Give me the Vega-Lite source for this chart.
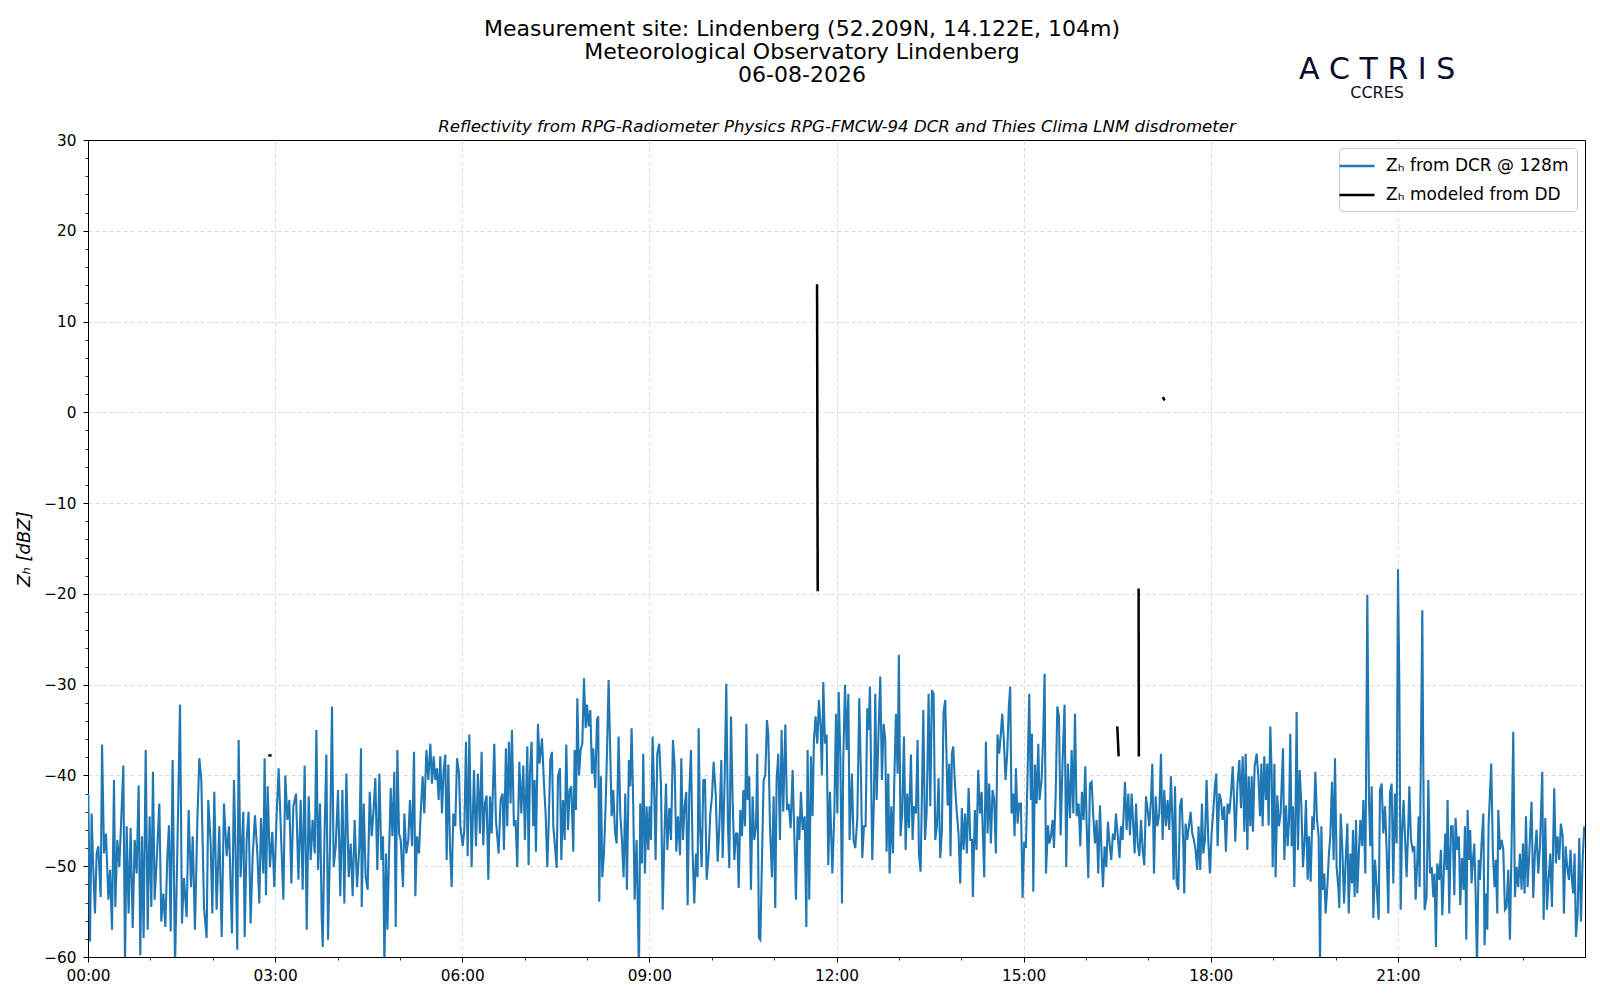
{
  "$schema": "https://vega.github.io/schema/vega-lite/v6.json",
  "width": 1497,
  "height": 817,
  "autosize": {"type": "none"},
  "padding": {"left": 88, "top": 140, "right": 15, "bottom": 43},
  "background": "white",
  "config": {
    "font": "DejaVu Sans",
    "view": {"stroke": "black", "strokeWidth": 1},
    "axis": {
      "labelFont": "DejaVu Sans", "labelFontSize": 15.3, "labelColor": "black",
      "domainColor": "black", "tickColor": "black",
      "titleFont": "DejaVu Sans", "titleColor": "black", "titleFontWeight": "normal"
    },
    "legend": {
      "orient": "top-right", "offset": 8, "fillColor": "white", "strokeColor": "#cccccc",
      "cornerRadius": 4, "padding": 8, "labelFont": "DejaVu Sans", "labelFontSize": 17,
      "labelColor": "black", "labelLimit": 400, "symbolType": "M-2,0H2", "symbolSize": 306,
      "symbolStrokeWidth": 2.5, "rowPadding": 11, "labelOffset": 19
    }
  },
  "title": {
    "text": [
      "Measurement site: Lindenberg (52.209N, 14.122E, 104m)",
      "Meteorological Observatory Lindenberg",
      "06-08-2026"
    ],
    "anchor": "middle", "frame": "group", "dx": -34.5,
    "font": "DejaVu Sans", "fontSize": 22, "fontWeight": "normal", "lineHeight": 23, "color": "black",
    "offset": -32
  },
  "datasets": {
    "dcr": [
      {"m":0.3,"v":-42.0},{"m":1.9,"v":-58.3},{"m":3.5,"v":-44.2},{"m":5.1,"v":-50.4},{"m":6.7,"v":-55.2},{"m":8.3,"v":-48.6},{"m":9.9,"v":-47.8},{"m":12.2,"v":-53.4},{"m":13.5,"v":-36.6},{"m":15.4,"v":-48.6},{"m":17.3,"v":-46.4},{"m":19.6,"v":-53.7},{"m":21.2,"v":-50.4},{"m":23.1,"v":-57.0},{"m":25.0,"v":-40.5},{"m":26.3,"v":-54.5},{"m":28.2,"v":-47.1},{"m":30.1,"v":-50.1},{"m":32.1,"v":-44.5},{"m":34.0,"v":-38.9},{"m":35.6,"v":-61},{"m":37.2,"v":-45.6},{"m":39.1,"v":-55.2},{"m":41.0,"v":-45.8},{"m":43.0,"v":-56.8},{"m":44.9,"v":-47.1},{"m":46.8,"v":-50.8},{"m":48.7,"v":-41.1},{"m":50.3,"v":-59.8},{"m":51.9,"v":-46.7},{"m":53.5,"v":-57.9},{"m":55.5,"v":-37.2},{"m":57.4,"v":-57.0},{"m":59.3,"v":-44.5},{"m":60.9,"v":-54.5},{"m":62.5,"v":-39.6},{"m":64.1,"v":-53.7},{"m":66.4,"v":-48.6},{"m":68.6,"v":-43.1},{"m":70.5,"v":-56.1},{"m":72.5,"v":-53.0},{"m":74.4,"v":-56.7},{"m":76.3,"v":-48.9},{"m":77.9,"v":-45.5},{"m":79.5,"v":-57.2},{"m":81.4,"v":-38.3},{"m":83.7,"v":-61},{"m":85.9,"v":-48.6},{"m":88.5,"v":-32.2},{"m":90.4,"v":-56.3},{"m":92.3,"v":-51.3},{"m":94.9,"v":-55.6},{"m":96.8,"v":-43.8},{"m":99.1,"v":-52.3},{"m":100.7,"v":-46.7},{"m":102.9,"v":-57.0},{"m":105.2,"v":-44.9},{"m":107.1,"v":-38.1},{"m":109.0,"v":-40.5},{"m":111.6,"v":-54.6},{"m":114.1,"v":-57.9},{"m":115.7,"v":-42.7},{"m":118.0,"v":-47.5},{"m":119.6,"v":-55.2},{"m":121.5,"v":-41.8},{"m":123.7,"v":-54.8},{"m":126.3,"v":-45.6},{"m":128.6,"v":-57.8},{"m":130.8,"v":-43.1},{"m":133.4,"v":-48.9},{"m":135.6,"v":-45.6},{"m":138.5,"v":-57.4},{"m":140.4,"v":-40.5},{"m":141.7,"v":-47.1},{"m":143.6,"v":-59.2},{"m":144.9,"v":-36.1},{"m":146.8,"v":-51.2},{"m":149.4,"v":-44.0},{"m":150.7,"v":-57.8},{"m":152.6,"v":-47.1},{"m":154.5,"v":-44.0},{"m":156.4,"v":-56.3},{"m":158.4,"v":-48.9},{"m":160.6,"v":-44.4},{"m":162.9,"v":-48.6},{"m":164.8,"v":-54.1},{"m":166.4,"v":-44.7},{"m":168.6,"v":-50.8},{"m":169.9,"v":-38.1},{"m":171.2,"v":-53.2},{"m":172.8,"v":-41.2},{"m":175.0,"v":-50.1},{"m":177.3,"v":-46.2},{"m":179.2,"v":-52.3},{"m":181.5,"v":-44.2},{"m":183.4,"v":-39.2},
      {"m":187.9,"v":-53.7},{"m":189.8,"v":-40.0},{"m":191.8,"v":-44.9},{"m":193.7,"v":-42.7},{"m":195.6,"v":-51.9},{"m":197.5,"v":-43.4},{"m":200.1,"v":-42.0},{"m":202.4,"v":-51.5},{"m":204.6,"v":-42.7},{"m":206.5,"v":-52.6},{"m":208.4,"v":-38.9},{"m":210.4,"v":-57.0},{"m":212.3,"v":-42.3},{"m":214.2,"v":-49.3},{"m":216.1,"v":-44.9},{"m":218.1,"v":-48.6},{"m":219.7,"v":-35.0},{"m":221.3,"v":-50.4},{"m":223.2,"v":-43.1},{"m":224.8,"v":-55.6},{"m":225.8,"v":-58.9},{"m":227.4,"v":-47.1},{"m":229.3,"v":-37.7},{"m":230.9,"v":-58.1},{"m":232.8,"v":-47.8},{"m":234.7,"v":-32.4},{"m":236.3,"v":-50.1},{"m":238.3,"v":-47.8},{"m":240.5,"v":-41.6},{"m":242.7,"v":-53.3},{"m":244.7,"v":-41.6},{"m":246.6,"v":-54.1},{"m":248.5,"v":-39.8},{"m":250.8,"v":-51.2},{"m":252.7,"v":-47.5},{"m":254.6,"v":-53.3},{"m":256.5,"v":-44.9},{"m":258.8,"v":-52.3},{"m":261.0,"v":-47.8},{"m":262.6,"v":-37.0},{"m":263.3,"v":-54.5},{"m":265.2,"v":-43.1},{"m":267.1,"v":-51.2},{"m":269.0,"v":-52.6},{"m":271.0,"v":-41.8},{"m":272.9,"v":-46.7},{"m":274.5,"v":-44.2},{"m":276.4,"v":-40.3},{"m":278.3,"v":-50.4},{"m":280.3,"v":-39.8},{"m":282.2,"v":-49.3},{"m":283.8,"v":-46.7},{"m":285.1,"v":-61},{"m":286.7,"v":-48.6},{"m":288.0,"v":-57.0},{"m":289.6,"v":-48.6},{"m":291.2,"v":-41.4},{"m":292.8,"v":-46.7},{"m":294.7,"v":-39.6},{"m":296.0,"v":-56.7},{"m":297.6,"v":-37.2},{"m":299.2,"v":-46.4},{"m":300.8,"v":-47.1},{"m":303.0,"v":-52.3},{"m":304.3,"v":-44.2},{"m":306.2,"v":-48.6},{"m":308.1,"v":-47.1},{"m":309.7,"v":-42.7},{"m":311.7,"v":-47.8},{"m":313.6,"v":-37.4},{"m":314.9,"v":-53.3},{"m":316.5,"v":-46.7},{"m":318.4,"v":-48.6},{"m":320.0,"v":-44.2},{"m":321.9,"v":-40.1},{"m":323.5,"v":-44.2},{"m":325.5,"v":-37.2},{"m":327.4,"v":-40.5},{"m":329.3,"v":-36.5},{"m":330.9,"v":-40.9},{"m":332.5,"v":-37.9},{"m":334.1,"v":-40.5},{"m":335.7,"v":-39.2},{"m":337.3,"v":-42.7},{"m":338.9,"v":-37.9},{"m":340.5,"v":-44.2},{"m":342.1,"v":-39.4},{"m":343.7,"v":-37.7},{"m":345.0,"v":-49.3},{"m":346.6,"v":-38.8},{"m":348.2,"v":-47.8},{"m":349.8,"v":-52.3},{"m":351.4,"v":-44.2},{"m":353.3,"v":-45.6},{"m":355.0,"v":-38.1},{"m":356.9,"v":-39.8},{"m":358.2,"v":-45.6},{"m":360.4,"v":-47.8},{"m":362.0,"v":-46.0},{"m":363.6,"v":-36.3},{"m":365.2,"v":-48.9},{"m":366.8,"v":-35.5},
      {"m":369.0,"v":-50.1},{"m":371.3,"v":-39.4},{"m":373.2,"v":-47.8},{"m":375.1,"v":-39.8},{"m":377.0,"v":-46.4},{"m":378.6,"v":-37.4},{"m":380.2,"v":-47.7},{"m":381.8,"v":-43.1},{"m":383.4,"v":-42.2},{"m":385.1,"v":-51.5},{"m":386.7,"v":-42.3},{"m":388.3,"v":-46.4},{"m":390.8,"v":-36.5},{"m":392.4,"v":-44.9},{"m":395.0,"v":-48.6},{"m":396.9,"v":-42.7},{"m":398.8,"v":-42.0},{"m":400.1,"v":-48.2},{"m":402.0,"v":-37.0},{"m":403.3,"v":-45.6},{"m":404.9,"v":-36.3},{"m":406.5,"v":-43.1},{"m":407.8,"v":-35.0},{"m":409.7,"v":-45.6},{"m":411.3,"v":-44.9},{"m":412.9,"v":-50.1},{"m":414.9,"v":-38.5},{"m":416.8,"v":-44.2},{"m":418.7,"v":-38.9},{"m":420.3,"v":-47.1},{"m":422.6,"v":-36.8},{"m":423.8,"v":-49.9},{"m":425.1,"v":-39.8},{"m":426.7,"v":-36.3},{"m":428.3,"v":-45.6},{"m":429.6,"v":-40.5},{"m":430.9,"v":-48.4},{"m":432.8,"v":-34.3},{"m":434.4,"v":-38.7},{"m":436.7,"v":-35.9},{"m":438.6,"v":-40.9},{"m":440.2,"v":-44.2},{"m":441.8,"v":-50.1},{"m":443.1,"v":-45.6},{"m":444.7,"v":-38.3},{"m":446.3,"v":-37.4},{"m":447.6,"v":-45.6},{"m":449.2,"v":-47.8},{"m":450.8,"v":-50.2},{"m":452.1,"v":-40.1},{"m":454.0,"v":-39.2},{"m":455.3,"v":-49.3},{"m":456.9,"v":-42.7},{"m":458.5,"v":-47.1},{"m":460.1,"v":-36.6},{"m":461.7,"v":-46.0},{"m":463.3,"v":-41.6},{"m":464.9,"v":-41.2},{"m":466.8,"v":-48.4},{"m":468.1,"v":-37.2},{"m":469.4,"v":-43.8},{"m":470.7,"v":-31.5},{"m":472.3,"v":-40.0},{"m":473.9,"v":-37.2},{"m":475.5,"v":-36.5},{"m":477.1,"v":-29.3},{"m":478.7,"v":-34.8},{"m":480.0,"v":-32.2},{"m":481.6,"v":-34.6},{"m":483.2,"v":-32.8},{"m":484.8,"v":-39.8},{"m":486.0,"v":-37.0},{"m":487.9,"v":-41.4},{"m":489.6,"v":-33.9},{"m":490.8,"v":-33.5},{"m":491.8,"v":-53.9},{"m":493.4,"v":-40.1},{"m":494.7,"v":-51.2},{"m":496.3,"v":-48.6},{"m":497.9,"v":-43.4},{"m":499.2,"v":-37.6},{"m":500.8,"v":-29.5},{"m":502.1,"v":-36.1},{"m":503.7,"v":-44.5},{"m":505.3,"v":-41.6},{"m":506.9,"v":-46.2},{"m":508.5,"v":-47.5},{"m":510.4,"v":-35.7},{"m":512.0,"v":-44.2},{"m":513.6,"v":-47.1},{"m":515.2,"v":-51.2},{"m":516.8,"v":-42.0},{"m":518.4,"v":-52.6},{"m":520.3,"v":-38.3},{"m":521.6,"v":-41.2},{"m":522.9,"v":-34.8},{"m":524.5,"v":-43.4},{"m":525.8,"v":-53.7},{"m":527.7,"v":-47.1},{"m":530.0,"v":-62},{"m":531.2,"v":-43.1},{"m":532.8,"v":-49.7},{"m":534.1,"v":-37.6},{"m":535.7,"v":-50.8},{"m":537.3,"v":-43.4},{"m":538.9,"v":-48.2},{"m":540.2,"v":-43.4},{"m":541.5,"v":-47.1},{"m":543.1,"v":-35.7},{"m":545.0,"v":-43.4},{"m":546.0,"v":-49.3},{"m":547.6,"v":-37.6},{"m":549.5,"v":-36.5},
      {"m":551.2,"v":-41.2},{"m":552.8,"v":-54.8},{"m":554.4,"v":-47.1},{"m":556.0,"v":-40.9},{"m":557.3,"v":-48.2},{"m":559.2,"v":-43.6},{"m":560.8,"v":-47.1},{"m":562.7,"v":-36.1},{"m":564.3,"v":-39.0},{"m":565.9,"v":-48.4},{"m":567.5,"v":-44.5},{"m":569.5,"v":-48.8},{"m":570.7,"v":-38.1},{"m":572.3,"v":-47.1},{"m":573.9,"v":-43.4},{"m":575.5,"v":-41.8},{"m":576.8,"v":-54.3},{"m":578.4,"v":-42.0},{"m":580.0,"v":-37.2},{"m":581.6,"v":-48.6},{"m":583.2,"v":-54.1},{"m":584.8,"v":-48.6},{"m":586.4,"v":-51.2},{"m":587.4,"v":-34.8},{"m":588.7,"v":-45.6},{"m":590.3,"v":-50.1},{"m":591.9,"v":-40.5},{"m":593.5,"v":-40.5},{"m":595.1,"v":-51.5},{"m":597.0,"v":-48.6},{"m":598.6,"v":-44.2},{"m":600.2,"v":-42.3},{"m":601.8,"v":-38.5},{"m":603.8,"v":-42.0},{"m":605.7,"v":-49.5},{"m":607.3,"v":-45.6},{"m":609.2,"v":-38.3},{"m":610.5,"v":-49.1},{"m":612.4,"v":-40.5},{"m":614.0,"v":-29.9},{"m":615.6,"v":-45.6},{"m":616.9,"v":-50.2},{"m":618.5,"v":-33.5},{"m":620.1,"v":-42.7},{"m":621.7,"v":-49.3},{"m":623.3,"v":-46.4},{"m":624.6,"v":-46.4},{"m":625.9,"v":-52.4},{"m":627.5,"v":-43.8},{"m":629.1,"v":-46.7},{"m":630.4,"v":-41.6},{"m":632.0,"v":-45.6},{"m":633.3,"v":-34.3},{"m":634.5,"v":-42.7},{"m":636.1,"v":-40.1},{"m":637.7,"v":-52.6},{"m":639.3,"v":-42.3},{"m":640.9,"v":-47.1},{"m":642.6,"v":-45.6},{"m":643.8,"v":-37.6},{"m":645.4,"v":-57.9},{"m":646.7,"v":-58.1},{"m":648.3,"v":-49.3},{"m":649.9,"v":-40.5},{"m":651.5,"v":-40.0},{"m":653.1,"v":-33.9},{"m":654.4,"v":-35.4},{"m":656.0,"v":-45.6},{"m":657.9,"v":-51.2},{"m":659.5,"v":-42.3},{"m":661.1,"v":-54.6},{"m":662.4,"v":-40.5},{"m":664.0,"v":-37.6},{"m":665.6,"v":-47.1},{"m":667.2,"v":-35.0},{"m":668.8,"v":-44.0},{"m":670.8,"v":-34.4},{"m":672.4,"v":-43.8},{"m":674.0,"v":-43.1},{"m":675.9,"v":-45.8},{"m":677.8,"v":-39.4},{"m":679.4,"v":-46.4},{"m":681.0,"v":-53.7},{"m":682.6,"v":-44.5},{"m":684.2,"v":-47.1},{"m":685.8,"v":-41.8},{"m":687.4,"v":-46.0},{"m":689.4,"v":-44.5},{"m":691.0,"v":-56.7},{"m":692.2,"v":-37.2},{"m":693.8,"v":-53.7},{"m":695.4,"v":-37.9},{"m":697.0,"v":-44.5},{"m":698.3,"v":-36.1},{"m":699.9,"v":-33.5},{"m":701.5,"v":-36.5},{"m":703.1,"v":-31.7},{"m":704.7,"v":-34.6},{"m":706.0,"v":-40.0},{"m":707.3,"v":-29.7},{"m":708.9,"v":-36.5},{"m":710.5,"v":-35.5},{"m":712.1,"v":-49.9},{"m":713.7,"v":-41.8},{"m":716.0,"v":-50.8},{"m":717.9,"v":-44.2},{"m":719.5,"v":-33.2},{"m":720.8,"v":-44.2},{"m":722.1,"v":-30.8},{"m":723.7,"v":-37.9},{"m":725.3,"v":-54.1},{"m":726.5,"v":-38.3},{"m":728.2,"v":-30.0},{"m":729.8,"v":-37.2},{"m":731.4,"v":-31.0},{"m":732.6,"v":-47.1},
      {"m":734.8,"v":-39.8},{"m":736.4,"v":-47.1},{"m":738.0,"v":-48.0},{"m":740.0,"v":-44.9},{"m":741.9,"v":-31.5},{"m":743.5,"v":-39.8},{"m":744.8,"v":-49.1},{"m":746.4,"v":-45.6},{"m":748.0,"v":-45.6},{"m":749.6,"v":-32.6},{"m":750.9,"v":-35.0},{"m":752.2,"v":-30.2},{"m":754.4,"v":-49.3},{"m":756.0,"v":-42.7},{"m":757.3,"v":-31.0},{"m":758.6,"v":-42.7},{"m":760.2,"v":-36.1},{"m":762.1,"v":-29.1},{"m":763.7,"v":-40.5},{"m":765.3,"v":-34.3},{"m":766.9,"v":-36.1},{"m":768.2,"v":-48.4},{"m":769.8,"v":-39.8},{"m":771.1,"v":-50.8},{"m":772.7,"v":-43.4},{"m":774.3,"v":-48.6},{"m":775.6,"v":-40.5},{"m":777.2,"v":-33.2},{"m":778.8,"v":-39.8},{"m":780.0,"v":-26.7},{"m":781.6,"v":-46.7},{"m":783.2,"v":-44.2},{"m":784.9,"v":-35.7},{"m":786.5,"v":-48.2},{"m":788.1,"v":-42.0},{"m":789.7,"v":-45.8},{"m":791.6,"v":-37.7},{"m":793.2,"v":-47.1},{"m":794.5,"v":-43.4},{"m":796.4,"v":-44.2},{"m":798.0,"v":-36.1},{"m":799.3,"v":-48.6},{"m":800.9,"v":-50.6},{"m":802.5,"v":-39.8},{"m":803.5,"v":-32.8},{"m":805.1,"v":-47.1},{"m":806.7,"v":-44.2},{"m":808.6,"v":-31.0},{"m":810.2,"v":-43.4},{"m":811.8,"v":-30.6},{"m":813.4,"v":-31.0},{"m":815.0,"v":-47.1},{"m":816.6,"v":-45.6},{"m":818.2,"v":-40.3},{"m":819.8,"v":-49.1},{"m":821.4,"v":-46.0},{"m":823.0,"v":-33.0},{"m":824.6,"v":-31.7},{"m":825.9,"v":-38.3},{"m":826.9,"v":-43.3},{"m":828.5,"v":-38.7},{"m":829.7,"v":-48.9},{"m":831.0,"v":-37.6},{"m":832.3,"v":-36.8},{"m":833.9,"v":-40.9},{"m":835.5,"v":-43.8},{"m":837.4,"v":-46.4},{"m":839.0,"v":-51.9},{"m":840.6,"v":-43.6},{"m":842.2,"v":-48.2},{"m":843.8,"v":-44.2},{"m":845.4,"v":-48.6},{"m":847.1,"v":-41.4},{"m":848.7,"v":-47.1},{"m":850.3,"v":-47.1},{"m":851.2,"v":-53.4},{"m":853.1,"v":-43.8},{"m":854.7,"v":-48.2},{"m":856.3,"v":-39.4},{"m":858.0,"v":-44.2},{"m":859.6,"v":-41.8},{"m":860.8,"v":-46.4},{"m":862.1,"v":-51.2},{"m":863.7,"v":-36.3},{"m":865.3,"v":-46.4},{"m":866.9,"v":-40.9},{"m":868.5,"v":-47.5},{"m":870.1,"v":-41.6},{"m":871.7,"v":-42.7},{"m":873.3,"v":-48.6},{"m":874.9,"v":-35.5},{"m":876.5,"v":-37.6},{"m":878.1,"v":-35.4},{"m":879.4,"v":-33.2},{"m":881.0,"v":-36.1},{"m":882.6,"v":-40.5},{"m":884.2,"v":-37.6},{"m":885.8,"v":-32.4},{"m":887.1,"v":-30.2},{"m":888.4,"v":-44.2},{"m":890.0,"v":-42.0},{"m":891.3,"v":-46.7},{"m":892.6,"v":-39.2},{"m":894.2,"v":-45.3},{"m":895.8,"v":-43.1},{"m":897.4,"v":-43.1},{"m":899.0,"v":-53.5},{"m":900.6,"v":-47.3},{"m":902.2,"v":-48.0},{"m":903.8,"v":-39.8},{"m":905.4,"v":-31.0},{"m":907.0,"v":-42.7},{"m":908.0,"v":-35.4},{"m":909.3,"v":-52.8},{"m":910.9,"v":-38.8},{"m":912.5,"v":-43.1},{"m":914.1,"v":-36.5},{"m":915.3,"v":-42.7},
      {"m":917.3,"v":-40.5},{"m":918.9,"v":-35.4},{"m":920.2,"v":-28.8},{"m":921.5,"v":-50.8},{"m":923.4,"v":-45.5},{"m":924.7,"v":-47.5},{"m":926.3,"v":-46.7},{"m":927.9,"v":-44.9},{"m":929.2,"v":-48.0},{"m":930.8,"v":-42.3},{"m":932.4,"v":-32.4},{"m":934.0,"v":-33.5},{"m":935.6,"v":-46.6},{"m":937.5,"v":-38.3},{"m":939.4,"v":-32.2},{"m":941.0,"v":-50.1},{"m":942.6,"v":-38.7},{"m":944.6,"v":-44.7},{"m":946.2,"v":-37.2},{"m":947.8,"v":-44.2},{"m":949.4,"v":-33.2},{"m":951.0,"v":-44.5},{"m":952.9,"v":-43.1},{"m":954.5,"v":-47.8},{"m":956.1,"v":-41.8},{"m":957.7,"v":-44.9},{"m":959.3,"v":-39.0},{"m":960.6,"v":-45.3},{"m":962.2,"v":-51.3},{"m":963.8,"v":-40.9},{"m":965.4,"v":-40.7},{"m":967.0,"v":-44.5},{"m":968.6,"v":-47.5},{"m":970.2,"v":-44.9},{"m":971.8,"v":-50.8},{"m":973.4,"v":-43.3},{"m":975.0,"v":-48.6},{"m":976.3,"v":-52.3},{"m":977.9,"v":-47.8},{"m":979.5,"v":-50.1},{"m":981.1,"v":-45.1},{"m":982.7,"v":-47.5},{"m":984.3,"v":-49.3},{"m":985.9,"v":-46.4},{"m":987.5,"v":-47.1},{"m":988.8,"v":-44.2},{"m":990.4,"v":-46.4},{"m":992.3,"v":-49.1},{"m":993.6,"v":-45.6},{"m":995.2,"v":-47.1},{"m":997.5,"v":-40.7},{"m":999.1,"v":-46.0},{"m":1000.7,"v":-42.0},{"m":1002.3,"v":-46.6},{"m":1003.9,"v":-42.0},{"m":1005.5,"v":-45.6},{"m":1006.8,"v":-48.6},{"m":1008.1,"v":-43.1},{"m":1009.7,"v":-47.5},{"m":1011.3,"v":-48.9},{"m":1012.9,"v":-44.9},{"m":1014.5,"v":-48.2},{"m":1016.1,"v":-49.9},{"m":1017.7,"v":-42.3},{"m":1019.3,"v":-43.8},{"m":1020.9,"v":-45.6},{"m":1022.5,"v":-42.7},{"m":1023.8,"v":-38.7},{"m":1025.4,"v":-50.8},{"m":1027.0,"v":-42.3},{"m":1028.6,"v":-45.6},{"m":1030.5,"v":-44.2},{"m":1032.1,"v":-37.6},{"m":1033.7,"v":-47.1},{"m":1035.3,"v":-41.6},{"m":1036.9,"v":-45.6},{"m":1038.5,"v":-42.7},{"m":1040.1,"v":-46.0},{"m":1041.7,"v":-40.1},{"m":1043.3,"v":-45.6},{"m":1044.3,"v":-51.5},{"m":1045.6,"v":-41.2},{"m":1047.2,"v":-51.9},{"m":1048.8,"v":-52.6},{"m":1050.4,"v":-43.4},{"m":1052.0,"v":-42.5},{"m":1053.6,"v":-47.8},{"m":1054.5,"v":-53.0},{"m":1055.8,"v":-45.3},{"m":1057.4,"v":-47.1},{"m":1059.0,"v":-45.6},{"m":1060.6,"v":-44.0},{"m":1062.2,"v":-46.4},{"m":1063.8,"v":-47.1},{"m":1065.4,"v":-48.2},{"m":1067.0,"v":-50.4},{"m":1068.3,"v":-45.6},{"m":1069.9,"v":-50.4},{"m":1071.5,"v":-43.1},{"m":1072.8,"v":-48.6},{"m":1074.4,"v":-47.1},{"m":1076.0,"v":-40.5},{"m":1077.6,"v":-47.1},{"m":1079.2,"v":-50.8},{"m":1080.8,"v":-46.4},{"m":1082.4,"v":-44.0},{"m":1084.0,"v":-41.2},{"m":1085.3,"v":-39.8},{"m":1086.6,"v":-47.8},{"m":1088.2,"v":-42.0},{"m":1089.8,"v":-42.7},{"m":1091.4,"v":-44.9},{"m":1093.0,"v":-43.4},{"m":1094.6,"v":-48.4},{"m":1096.2,"v":-43.1},{"m":1097.8,"v":-44.2},
      {"m":1099.5,"v":-42.0},{"m":1101.1,"v":-39.0},{"m":1102.4,"v":-42.7},{"m":1103.6,"v":-47.3},{"m":1105.6,"v":-41.2},{"m":1107.5,"v":-38.3},{"m":1109.1,"v":-43.6},{"m":1110.7,"v":-37.9},{"m":1112.3,"v":-46.2},{"m":1113.6,"v":-37.6},{"m":1115.2,"v":-48.2},{"m":1116.5,"v":-40.1},{"m":1118.1,"v":-45.6},{"m":1119.4,"v":-40.1},{"m":1120.6,"v":-46.2},{"m":1122.2,"v":-39.0},{"m":1124.2,"v":-37.6},{"m":1125.8,"v":-40.1},{"m":1127.4,"v":-44.5},{"m":1128.7,"v":-38.7},{"m":1129.9,"v":-45.6},{"m":1131.5,"v":-37.9},{"m":1133.1,"v":-42.7},{"m":1134.4,"v":-38.7},{"m":1135.7,"v":-45.5},{"m":1137.3,"v":-34.6},{"m":1138.6,"v":-39.8},{"m":1139.6,"v":-50.1},{"m":1141.2,"v":-38.7},{"m":1142.4,"v":-51.2},{"m":1144.0,"v":-42.2},{"m":1145.6,"v":-45.6},{"m":1147.2,"v":-44.2},{"m":1149.5,"v":-37.0},{"m":1150.8,"v":-49.3},{"m":1152.4,"v":-43.3},{"m":1154.0,"v":-47.8},{"m":1155.3,"v":-44.9},{"m":1156.5,"v":-35.4},{"m":1157.8,"v":-47.8},{"m":1159.1,"v":-43.4},{"m":1160.4,"v":-52.3},{"m":1161.7,"v":-42.7},{"m":1162.6,"v":-33.0},{"m":1163.9,"v":-48.2},{"m":1165.5,"v":-39.4},{"m":1167.1,"v":-43.1},{"m":1168.7,"v":-50.1},{"m":1170.3,"v":-47.1},{"m":1171.6,"v":-42.7},{"m":1173.2,"v":-51.5},{"m":1174.5,"v":-46.7},{"m":1176.1,"v":-51.7},{"m":1177.7,"v":-44.5},{"m":1179.0,"v":-46.0},{"m":1180.6,"v":-39.6},{"m":1182.2,"v":-44.9},{"m":1183.8,"v":-46.7},{"m":1185.1,"v":-61},{"m":1186.4,"v":-45.6},{"m":1187.6,"v":-52.6},{"m":1189.2,"v":-50.8},{"m":1190.5,"v":-55.2},{"m":1192.1,"v":-52.3},{"m":1193.7,"v":-48.6},{"m":1195.0,"v":-46.7},{"m":1196.6,"v":-40.7},{"m":1198.2,"v":-49.3},{"m":1199.5,"v":-38.1},{"m":1201.1,"v":-50.1},{"m":1202.7,"v":-52.3},{"m":1203.7,"v":-54.6},{"m":1205.0,"v":-44.2},{"m":1206.6,"v":-48.2},{"m":1208.2,"v":-54.1},{"m":1209.8,"v":-49.3},{"m":1211.4,"v":-45.3},{"m":1212.7,"v":-55.2},{"m":1214.3,"v":-48.6},{"m":1215.9,"v":-51.9},{"m":1216.8,"v":-46.0},{"m":1218.4,"v":-53.4},{"m":1219.7,"v":-44.9},{"m":1221.0,"v":-53.0},{"m":1222.6,"v":-48.2},{"m":1223.9,"v":-44.9},{"m":1225.5,"v":-47.8},{"m":1226.8,"v":-42.7},{"m":1228.7,"v":-50.8},{"m":1229.3,"v":-42.0},{"m":1230.6,"v":-20.1},{"m":1232.2,"v":-42.7},{"m":1233.5,"v":-47.8},{"m":1234.8,"v":-41.2},{"m":1236.4,"v":-55.7},{"m":1238.0,"v":-49.3},{"m":1239.6,"v":-52.3},{"m":1241.5,"v":-55.9},{"m":1242.8,"v":-41.6},{"m":1244.4,"v":-40.9},{"m":1246.0,"v":-46.4},{"m":1247.6,"v":-43.4},{"m":1249.2,"v":-48.2},{"m":1250.8,"v":-55.2},{"m":1252.4,"v":-42.0},{"m":1254.0,"v":-40.9},{"m":1255.6,"v":-51.9},{"m":1257.2,"v":-42.0},{"m":1258.8,"v":-47.5},{"m":1260.1,"v":-17.3},{"m":1261.4,"v":-30.0},{"m":1262.7,"v":-54.8},{"m":1263.9,"v":-46.7},{"m":1265.5,"v":-42.7},{"m":1267.2,"v":-47.8},{"m":1268.4,"v":-51.2},{"m":1270.0,"v":-45.6},{"m":1271.0,"v":-41.2},{"m":1272.6,"v":-47.1},{"m":1274.2,"v":-48.2},{"m":1275.8,"v":-47.8},{"m":1277.1,"v":-53.7},{"m":1278.7,"v":-49.3},{"m":1280.0,"v":-44.5},{"m":1280.9,"v":-52.3},
      {"m":1283.5,"v":-21.8},{"m":1284.4,"v":-38.3},{"m":1285.7,"v":-54.8},{"m":1287.6,"v":-53.4},{"m":1289.3,"v":-40.5},{"m":1290.9,"v":-50.8},{"m":1292.5,"v":-50.1},{"m":1294.1,"v":-53.4},{"m":1295.3,"v":-50.8},{"m":1296.6,"v":-58.9},{"m":1297.9,"v":-49.7},{"m":1299.8,"v":-51.5},{"m":1301.4,"v":-48.2},{"m":1302.7,"v":-55.4},{"m":1304.3,"v":-50.4},{"m":1305.6,"v":-46.4},{"m":1306.9,"v":-50.4},{"m":1307.8,"v":-42.7},{"m":1309.4,"v":-55.2},{"m":1311.1,"v":-45.6},{"m":1312.7,"v":-45.6},{"m":1314.3,"v":-53.2},{"m":1315.5,"v":-44.7},{"m":1317.1,"v":-48.2},{"m":1318.7,"v":-46.7},{"m":1320.0,"v":-54.3},{"m":1321.6,"v":-49.1},{"m":1323.2,"v":-52.6},{"m":1324.5,"v":-45.6},{"m":1325.8,"v":-58.1},{"m":1327.1,"v":-43.8},{"m":1328.4,"v":-49.3},{"m":1329.6,"v":-46.0},{"m":1330.9,"v":-51.9},{"m":1332.2,"v":-49.3},{"m":1333.5,"v":-47.5},{"m":1334.8,"v":-53.0},{"m":1336.1,"v":-61},{"m":1337.7,"v":-49.3},{"m":1338.9,"v":-51.5},{"m":1340.5,"v":-47.5},{"m":1342.2,"v":-44.2},{"m":1343.4,"v":-58.7},{"m":1344.7,"v":-53.0},{"m":1346.0,"v":-57.0},{"m":1347.3,"v":-45.3},{"m":1348.6,"v":-42.0},{"m":1349.8,"v":-38.7},{"m":1351.4,"v":-48.6},{"m":1353.0,"v":-52.3},{"m":1354.3,"v":-49.3},{"m":1355.6,"v":-55.2},{"m":1356.6,"v":-43.8},{"m":1358.2,"v":-48.2},{"m":1359.8,"v":-47.1},{"m":1361.4,"v":-48.2},{"m":1363.0,"v":-54.8},{"m":1364.6,"v":-54.5},{"m":1366.2,"v":-50.4},{"m":1367.8,"v":-58.1},{"m":1369.4,"v":-47.5},{"m":1371.0,"v":-35.2},{"m":1372.6,"v":-53.4},{"m":1374.2,"v":-50.1},{"m":1375.8,"v":-52.3},{"m":1377.4,"v":-48.6},{"m":1379.0,"v":-52.6},{"m":1380.3,"v":-47.5},{"m":1381.9,"v":-53.0},{"m":1383.2,"v":-44.5},{"m":1384.8,"v":-52.3},{"m":1386.4,"v":-48.6},{"m":1388.6,"v":-42.9},{"m":1390.2,"v":-53.5},{"m":1391.8,"v":-48.6},{"m":1393.4,"v":-46.0},{"m":1395.0,"v":-50.8},{"m":1396.7,"v":-47.8},{"m":1398.9,"v":-39.6},{"m":1400.2,"v":-55.9},{"m":1401.8,"v":-44.7},{"m":1403.4,"v":-54.8},{"m":1405.0,"v":-51.5},{"m":1406.6,"v":-48.6},{"m":1408.2,"v":-54.5},{"m":1410.4,"v":-41.4},{"m":1412.0,"v":-49.7},{"m":1413.6,"v":-46.7},{"m":1415.2,"v":-49.3},{"m":1416.8,"v":-45.3},{"m":1418.5,"v":-46.7},{"m":1419.7,"v":-55.2},{"m":1421.3,"v":-47.8},{"m":1422.9,"v":-50.1},{"m":1424.5,"v":-51.5},{"m":1426.1,"v":-48.2},{"m":1427.4,"v":-51.5},{"m":1428.7,"v":-53.0},{"m":1430.0,"v":-48.6},{"m":1431.3,"v":-57.8},{"m":1432.9,"v":-55.2},{"m":1434.5,"v":-46.9},{"m":1436.1,"v":-56.1},{"m":1437.7,"v":-49.3},{"m":1439.3,"v":-45.6}
    ],
    "dd": [
      {"m":173.4,"v":-37.8,"s":"a"},{"m":176.6,"v":-37.8,"s":"a"},
      {"m":701.3,"v":14.1,"s":"b"},{"m":701.9,"v":-19.7,"s":"b"},
      {"m":990.1,"v":-34.6,"s":"c"},{"m":991.4,"v":-37.9,"s":"c"},
      {"m":1010.6,"v":-19.4,"s":"d"},{"m":1010.8,"v":-37.9,"s":"d"},
      {"m":1034.0,"v":1.7,"s":"e"},{"m":1035.5,"v":1.3,"s":"e"}
    ]
  },
  "resolve": {"axis": {"x": "independent", "y": "independent"}},
  "layer": [
    {
      "data": {"name": "dcr"},
      "mark": {"type": "line", "strokeWidth": 2.1, "clip": true},
      "encoding": {
        "x": {
          "field": "m", "type": "quantitative",
          "scale": {"domain": [0, 1440], "nice": false},
          "axis": {
            "orient": "bottom", "title": null,
            "values": [0, 180, 360, 540, 720, 900, 1080, 1260],
            "labelExpr": "(datum.value / 60 < 10 ? '0' : '') + (datum.value / 60) + ':00'",
            "labelFlush": false, "labelPadding": 6, "tickSize": 5,
            "grid": true, "gridColor": "#d0d0d0", "gridDash": [4, 3], "gridWidth": 0.8,
            "gridOpacity": {"condition": {"test": "datum.value === 0", "value": 0}, "value": 1}
          }
        },
        "y": {
          "field": "v", "type": "quantitative",
          "scale": {"domain": [-60, 30], "nice": false},
          "axis": {
            "orient": "left", "title": "Zₕ [dBZ]", "titleFontSize": 18, "titleFontStyle": "italic",
            "titlePadding": 10, "values": [-60, -50, -40, -30, -20, -10, 0, 10, 20, 30],
            "labelPadding": 7, "tickSize": 5,
            "grid": true, "gridColor": "#d0d0d0", "gridDash": [4, 3], "gridWidth": 0.8,
            "gridOpacity": {"condition": {"test": "datum.value === 30 || datum.value === -60", "value": 0}, "value": 1}
          }
        },
        "color": {
          "datum": "Zₕ from DCR @ 128m", "type": "nominal",
          "scale": {"domain": ["Zₕ from DCR @ 128m", "Zₕ modeled from DD"], "range": ["#1f77b4", "black"]},
          "legend": {"title": null}
        }
      }
    },
    {
      "data": {"name": "dd"},
      "mark": {"type": "line", "strokeWidth": 2.5, "clip": true},
      "encoding": {
        "x": {
          "field": "m", "type": "quantitative",
          "axis": {
            "orient": "bottom", "title": null, "labels": false, "domain": false, "grid": false,
            "tickSize": 3, "tickWidth": 0.8,
            "values": [60, 120, 240, 300, 420, 480, 600, 660, 780, 840, 960, 1020, 1140, 1200, 1320, 1380]
          }
        },
        "y": {
          "field": "v", "type": "quantitative",
          "axis": {
            "orient": "left", "title": null, "labels": false, "domain": false, "grid": false,
            "tickSize": 3, "tickWidth": 0.8,
            "values": [-58, -56, -54, -52, -48, -46, -44, -42, -38, -36, -34, -32, -28, -26, -24, -22, -18, -16, -14, -12, -8, -6, -4, -2, 2, 4, 6, 8, 12, 14, 16, 18, 22, 24, 26, 28]
          }
        },
        "detail": {"field": "s"},
        "color": {"datum": "Zₕ modeled from DD", "type": "nominal"}
      }
    },
    {
      "data": {"values": [{}]},
      "mark": {"type": "text", "text": "A C T R I S", "font": "DejaVu Sans", "fontSize": 30, "color": "#0b0b2e", "align": "center", "baseline": "alphabetic"},
      "encoding": {
        "x": {
          "datum": 1240, "type": "quantitative",
          "axis": {
            "orient": "top", "title": "Reflectivity from RPG-Radiometer Physics RPG-FMCW-94 DCR and Thies Clima LNM disdrometer",
            "titleFontSize": 16.6, "titleFontStyle": "italic", "titlePadding": 6,
            "labels": false, "ticks": false, "tickSize": 0, "domain": false, "grid": false, "values": []
          }
        },
        "y": {"datum": 36.7, "type": "quantitative", "axis": null}
      }
    },
    {
      "data": {"values": [{}]},
      "mark": {"type": "text", "text": "CCRES", "font": "DejaVu Sans", "fontSize": 16, "color": "#0b0b2e", "align": "center", "baseline": "alphabetic"},
      "encoding": {
        "x": {"datum": 1240, "type": "quantitative", "axis": null},
        "y": {"datum": 34.6, "type": "quantitative", "axis": null}
      }
    }
  ]
}
